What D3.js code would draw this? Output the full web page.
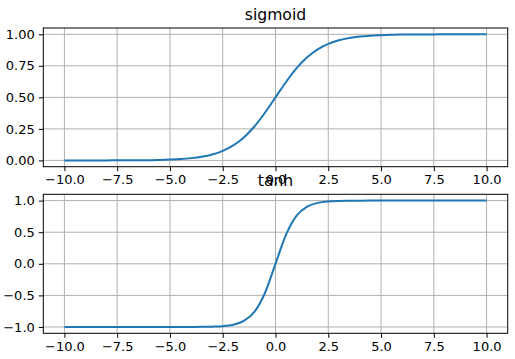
<!DOCTYPE html>
<meta charset="utf-8">
<style>
  body { margin: 0; background: #fff; }
  svg text { font-family: "DejaVu Sans", sans-serif; fill: #000; }
  .tick text { font-size: 13px; }
  .title { font-size: 15.6px; text-anchor: middle; }
</style>
<svg width="515" height="359"></svg>
<script src="https://d3js.org/d3.v7.min.js"></script>
<script>

  // data
  var xs = [-10, -9.5, -9, -8.5, -8, -7.5, -7, -6.5, -6, -5.5, -5, -4.5, -4, -3.5, -3, -2.5, -2, -1.5, -1, -0.5,
            0, 0.5, 1, 1.5, 2, 2.5, 3, 3.5, 4, 4.5, 5, 5.5, 6, 6.5, 7, 7.5, 8, 8.5, 9, 9.5, 10];

  var sigmoidValues = [0.000, 0.000, 0.000, 0.000, 0.000, 0.001, 0.001, 0.002, 0.002, 0.004, 0.007, 0.011, 0.018, 0.029, 0.047, 0.076, 0.119, 0.182, 0.269, 0.378,
                       0.500, 0.622, 0.731, 0.818, 0.881, 0.924, 0.953, 0.971, 0.982, 0.989, 0.993, 0.996, 0.998, 0.998, 0.999, 0.999, 1.000, 1.000, 1.000, 1.000, 1.000];

  var tanhValues = [-1.000, -1.000, -1.000, -1.000, -1.000, -1.000, -1.000, -1.000, -1.000, -1.000, -1.000, -1.000, -0.999, -0.998, -0.995, -0.987, -0.964, -0.905, -0.762, -0.462,
                    0.000, 0.462, 0.762, 0.905, 0.964, 0.987, 0.995, 0.998, 0.999, 1.000, 1.000, 1.000, 1.000, 1.000, 1.000, 1.000, 1.000, 1.000, 1.000, 1.000, 1.000];

  var xTicks = [-10, -7.5, -5, -2.5, 0, 2.5, 5, 7.5, 10];
  var xTickLabels = ["\u221210.0", "\u22127.5", "\u22125.0", "\u22122.5", "0.0", "2.5", "5.0", "7.5", "10.0"];

  var sigTicks = [0, 0.25, 0.5, 0.75, 1];
  var sigTickLabels = ["0.00", "0.25", "0.50", "0.75", "1.00"];

  var tanhTicks = [-1, -0.5, 0, 0.5, 1];
  var tanhTickLabels = ["\u22121.0", "\u22120.5", "0.0", "0.5", "1.0"];

  var svg = d3.select("svg");

  var left = 43.3, right = 507.7;

  var panels = [
    {title: "sigmoid", values: sigmoidValues, top: 28, bottom: 166.7, ydom: [-0.05, 1.05], yt: sigTicks, yl: sigTickLabels},
    {title: "tanh", values: tanhValues, top: 194.3, bottom: 333.3, ydom: [-1.1, 1.1], yt: tanhTicks, yl: tanhTickLabels}
  ];

  var x = d3.scaleLinear().domain([-11, 11]).range([left, right]);

  panels.forEach(function(p) {
    var y = d3.scaleLinear().domain(p.ydom).range([p.bottom, p.top]);
    var g = svg.append("g");

    // grid
    g.append("g").selectAll("line").data(xTicks).enter().append("line")
      .attr("x1", function(d) { return x(d); }).attr("x2", function(d) { return x(d); })
      .attr("y1", p.top).attr("y2", p.bottom)
      .attr("stroke", "#b0b0b0").attr("stroke-width", 1);
    g.append("g").selectAll("line").data(p.yt).enter().append("line")
      .attr("y1", function(d) { return y(d); }).attr("y2", function(d) { return y(d); })
      .attr("x1", left).attr("x2", right)
      .attr("stroke", "#b0b0b0").attr("stroke-width", 1);

    // curve
    var line = d3.line()
      .x(function(d, i) { return x(xs[i]); })
      .y(function(d) { return y(d); })
      .curve(d3.curveMonotoneX);
    g.append("path").datum(p.values)
      .attr("d", line)
      .attr("fill", "none")
      .attr("stroke", "#1f77b4")
      .attr("stroke-width", 2);

    // frame
    g.append("rect")
      .attr("x", left).attr("y", p.top)
      .attr("width", right - left).attr("height", p.bottom - p.top)
      .attr("fill", "none").attr("stroke", "#000").attr("stroke-width", 1);

    // axes
    var xa = g.append("g").attr("transform", "translate(0," + p.bottom + ")")
      .call(d3.axisBottom(x).tickValues(xTicks).tickSize(4.5).tickPadding(4)
        .tickFormat(function(d, i) { return xTickLabels[i]; }));
    var ya = g.append("g").attr("transform", "translate(" + left + ",0)")
      .call(d3.axisLeft(y).tickValues(p.yt).tickSize(4.5).tickPadding(4)
        .tickFormat(function(d, i) { return p.yl[i]; }));
    [xa, ya].forEach(function(a) {
      a.select(".domain").remove();
      a.selectAll(".tick line").attr("stroke", "#000");
      a.selectAll(".tick text").attr("fill", "#000").style("font-size", "13px");
      a.attr("font-family", null).attr("font-size", null);
    });

    // title
    svg.append("text").attr("class", "title")
      .attr("x", (left + right) / 2).attr("y", p.top - 8.5)
      .text(p.title);
  });

</script>
